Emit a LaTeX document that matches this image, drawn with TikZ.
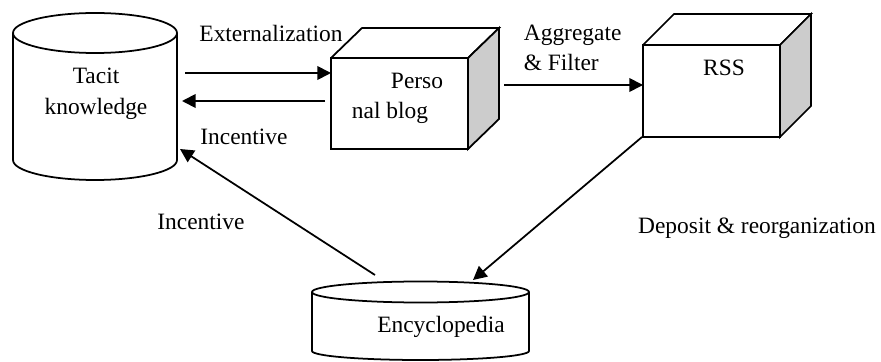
\documentclass[tikz,border=0pt]{standalone}
\usepackage{fontspec}
\setmainfont{Liberation Serif}
\usetikzlibrary{arrows.meta}

\tikzset{
  flow/.style={-{Triangle[length=7pt,width=7pt]}},
  lbl/.style={font=\fontsize{12}{16}\selectfont, inner sep=0pt},
  shade/.style={fill=black!20},
}

\begin{document}
\begin{tikzpicture}[x=0.018cm, y=0.018cm, line width=0.9pt]
\useasboundingbox (0,0) rectangle (881,361);

% tacit knowledge (cylinder)
\draw (13,328) -- (13,201) arc[start angle=180, end angle=360, x radius=82, y radius=20] -- (177,328);
\draw (95,328) ellipse [x radius=82, y radius=20];
\node[lbl, align=center] (tacit) at (96,267) {Tacit\\knowledge};

% personal blog (box)
\draw (331,212) rectangle (468,303);
\draw (331,303) -- (362,333) -- (499,333) -- (468,303);
\draw[shade] (468,303) -- (499,333) -- (499,242) -- (468,212) -- cycle;
\node[lbl] (blogA) at (417,280) {Perso};
\node[lbl] (blogB) at (390,248) {nal blog};

% rss (box)
\draw (643,224) rectangle (780,316);
\draw (643,316) -- (674,347) -- (811,347) -- (780,316);
\draw[shade] (780,316) -- (811,347) -- (811,255) -- (780,224) -- cycle;
\node[lbl] (rss) at (724,293) {RSS};

% encyclopedia (flat cylinder)
\draw (312,69) -- (312,10) arc[start angle=180, end angle=360, x radius=108.5, y radius=9] -- (529,69);
\draw (420.5,69) ellipse [x radius=108.5, y radius=10.5];
\node[lbl] (ency) at (441,34) {Encyclopedia};

% arrow ends
\coordinate (T1) at (185,288);
\coordinate (B1) at (331,288);
\coordinate (B2) at (325,260);
\coordinate (T2) at (182,260);
\coordinate (B3) at (504,276);
\coordinate (R1) at (643,276);
\coordinate (R2) at (642,224);
\coordinate (E1) at (473,81);
\coordinate (E2) at (375,86);
\coordinate (T3) at (180,212);

\draw[flow] (T1) -- (B1);
\draw[flow] (B2) -- (T2);
\draw[flow] (B3) -- (R1);
\draw[flow] (R2) -- (E1);
\draw[flow] (E2) -- (T3);

% labels
\node[lbl] (ext) at (271,328) {Externalization};
\node[lbl] (inc1) at (244,224) {Incentive};
\node[lbl, align=left, anchor=west, font=\fontsize{12}{15.4}\selectfont] (agg) at (523,313) {Aggregate\\\& Filter};
\node[lbl] (dep) at (757,133) {Deposit \& reorganization};
\node[lbl] (inc2) at (201,139) {Incentive};
\end{tikzpicture}
\end{document}
